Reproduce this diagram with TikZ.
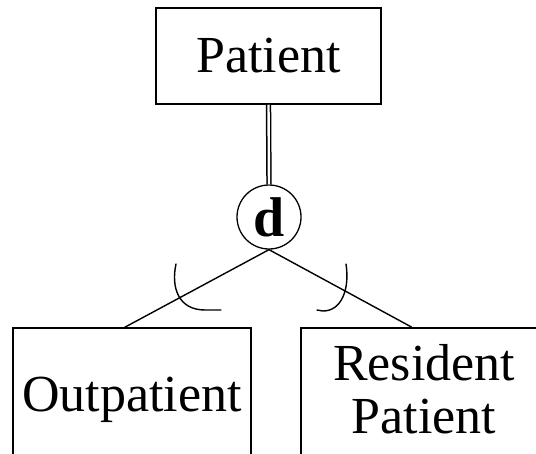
\documentclass[tikz,border=0pt]{standalone}
\usepackage{fontspec}
\setmainfont{Liberation Serif}
\usetikzlibrary{calc}
\begin{document}
\begin{tikzpicture}[x=1pt,y=-1pt,
  entity/.style={draw,line width=1.5pt,inner sep=0pt,
    font=\fontsize{52}{53}\selectfont,align=center},
  disjoint/.style={draw,circle,line width=1.3pt,inner sep=0pt,
    minimum size=64pt,font=\fontsize{56}{56}\selectfont\bfseries},
  link/.style={line width=1.4pt},
  subset/.style={line width=1.4pt,line cap=round}]
\useasboundingbox (0,0) rectangle (536,453);
\clip (0,0) rectangle (536,453);

% entities
\node[entity,minimum width=225pt,minimum height=96pt] (patient) at (268.5,56) {Patient};
\node[entity,minimum width=238pt,minimum height=160pt] (out) at (132,408)
  {Outpatient\rule[-28pt]{0pt}{0pt}};
\node[entity,minimum width=246pt,minimum height=160pt] (res) at (424,408)
  {Resident\\Patient\rule[-38pt]{0pt}{0pt}};

% disjoint specialisation circle
\node[disjoint] (d) at (269,217) {d};

% total participation (double line)
\draw[line width=1.5pt,double,double distance=2.4pt] (patient.south) -- (d.north);

% connectors to the subclasses
\coordinate (outtop) at ($(out.north west)!0.47!(out.north east)$);
\coordinate (restop) at ($(res.north west)!0.451!(res.north east)$);
\draw[link] (d.south) -- (outtop);
\draw[link] (d.south) -- (restop);

% subset marks
\draw[subset] (176,264) .. controls (171,287) and (178,310) .. (205,310) -- (221,310);
\draw[subset] (346,264) .. controls (350,290) and (341,311) .. (323,311) -- (317,310);
\end{tikzpicture}
\end{document}
